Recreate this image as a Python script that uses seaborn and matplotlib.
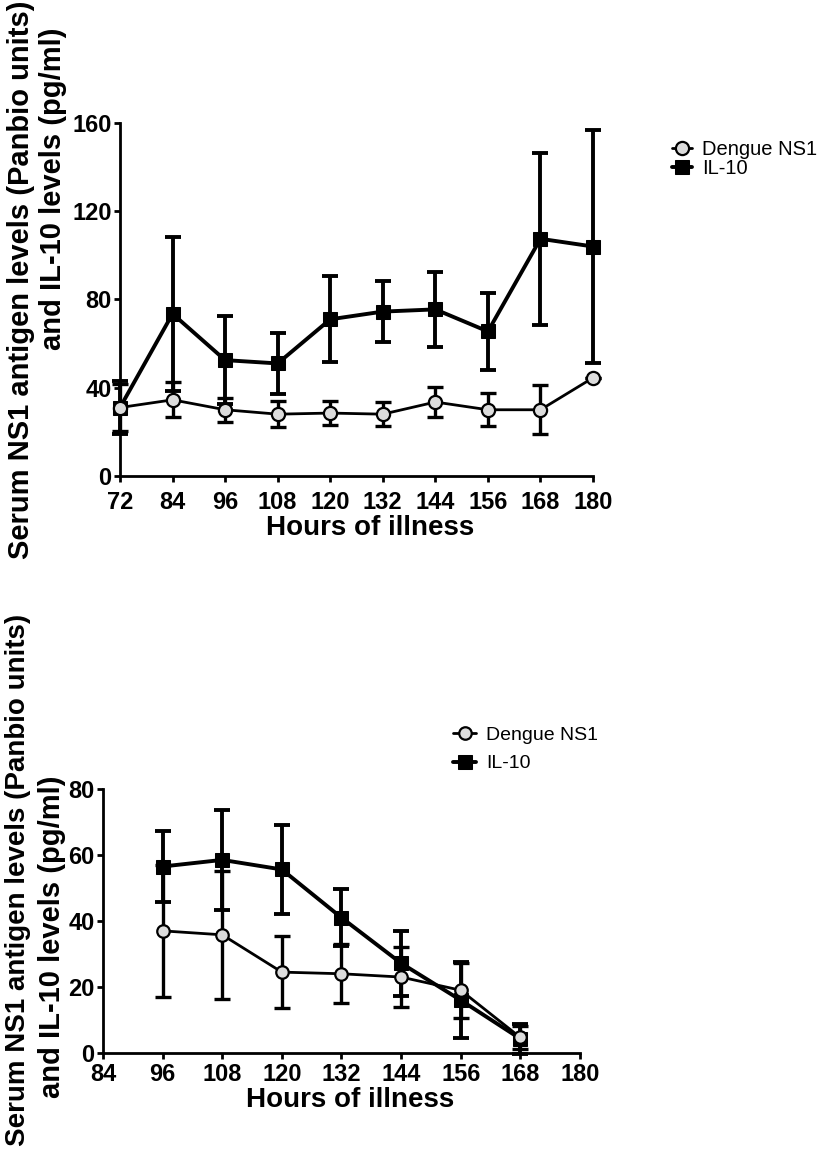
import numpy as np
import pandas as pd
import matplotlib
matplotlib.use("Agg")
import matplotlib.pyplot as plt
import seaborn as sns

# ---------------- data ----------------
hours_top = [72, 84, 96, 108, 120, 132, 144, 156, 168, 180]
ns1_top = [31, 34.5, 30, 28, 28.5, 28, 33.5, 30, 30, 44.5]
ns1_top_err = [10.5, 8, 5.5, 6, 5.3, 5.5, 6.6, 7.5, 11, 0]
il10_top = [31, 73.5, 52.5, 51, 71, 74.5, 75.5, 65.5, 107.5, 104]
il10_top_err = [12, 35, 20, 14, 19.5, 13.7, 17, 17.5, 39, 53]

hours_bot = [96, 108, 120, 132, 144, 156, 168]
ns1_bot = [37, 35.8, 24.5, 24, 23, 19, 4.7]
ns1_bot_err = [20, 19.4, 11, 9, 9, 8.3, 3.5]
il10_bot = [56.5, 58.5, 55.6, 41, 27.2, 16, 4.3]
il10_bot_err = [10.8, 15.2, 13.6, 8.7, 9.8, 11.5, 4.5]

xticks_top = [72, 84, 96, 108, 120, 132, 144, 156, 168, 180]
yticks_top = [0, 40, 80, 120, 160]
xticks_bot = [84, 96, 108, 120, 132, 144, 156, 168, 180]
yticks_bot = [0, 20, 40, 60, 80]

series_names = ["Dengue NS1", "IL-10"]
ylabel_1 = "Serum NS1 antigen levels (Panbio units)"
ylabel_2 = "and IL-10 levels (pg/ml)"
xlabel = "Hours of illness"

# ---------------- style ----------------
sns.set_theme(style="ticks")
plt.rcParams["font.family"] = ["Liberation Sans", "DejaVu Sans"]
plt.rcParams["font.weight"] = "bold"
for k in ["text.color", "axes.labelcolor", "xtick.color", "ytick.color",
          "axes.edgecolor"]:
    plt.rcParams[k] = "black"

fig = plt.figure(figsize=(8.27, 11.58), dpi=100)

ax_top = fig.add_axes([0.1451, 0.589, 0.572, 0.3048])
ax_bot = fig.add_axes([0.1245, 0.0907, 0.5768, 0.228])


def draw(ax, hours, ns1, ns1_err, il10, il10_err, ms_c, ms_s):
    df = pd.DataFrame({
        "hours": list(hours) * 2,
        "value": list(ns1) + list(il10),
        "series": [series_names[0]] * len(hours) + [series_names[1]] * len(hours),
    })
    # error bars
    ax.errorbar(hours, ns1, yerr=ns1_err, fmt="none", ecolor="black",
                elinewidth=2.4, capsize=6, capthick=2.4, zorder=2, clip_on=False)
    ax.errorbar(hours, il10, yerr=il10_err, fmt="none", ecolor="black",
                elinewidth=2.8, capsize=6, capthick=2.8, zorder=2, clip_on=False)
    sns.lineplot(data=df[df.series == series_names[0]], x="hours", y="value",
                 ax=ax, color="black", marker="o", markersize=ms_c,
                 markerfacecolor="#dcdcdc", markeredgecolor="black",
                 markeredgewidth=1.6, linewidth=2.0, label=series_names[0],
                 zorder=4, clip_on=False)
    sns.lineplot(data=df[df.series == series_names[1]], x="hours", y="value",
                 ax=ax, color="black", marker="s", markersize=ms_s,
                 markerfacecolor="black", markeredgecolor="black",
                 linewidth=2.8, label=series_names[1], zorder=3, clip_on=False)


draw(ax_top, hours_top, ns1_top, ns1_top_err, il10_top, il10_top_err, 9.5, 10.5)
draw(ax_bot, hours_bot, ns1_bot, ns1_bot_err, il10_bot, il10_bot_err, 9, 10)

for ax, xt, yt, xpad in [(ax_top, xticks_top, yticks_top, 7),
                         (ax_bot, xticks_bot, yticks_bot, 3)]:
    ax.set_xlim(xt[0], xt[-1])
    ax.set_ylim(yt[0], yt[-1])
    ax.set_xticks(xt)
    ax.set_yticks(yt)
    ax.set_xticklabels([str(v) for v in xt], fontsize=17, fontweight="bold")
    ax.set_yticklabels([str(v) for v in yt], fontsize=17, fontweight="bold")
    for s in ["top", "right"]:
        ax.spines[s].set_visible(False)
    for s in ["left", "bottom"]:
        ax.spines[s].set_linewidth(2.0)
        ax.spines[s].set_color("black")
    ax.tick_params(axis="x", length=4, width=2, pad=xpad, colors="black")
    ax.tick_params(axis="y", length=4, width=2, pad=2, colors="black")
    ax.set_ylabel("")
    ax.set_facecolor("white")

ax_top.set_xlabel(xlabel, fontsize=20, fontweight="bold", color="black")
ax_top.xaxis.set_label_coords(0.529, -0.112)
ax_bot.set_xlabel(xlabel, fontsize=20, fontweight="bold", color="black")
ax_bot.xaxis.set_label_coords(0.518, -0.128)

# legends
ax_top.legend(loc="upper left", bbox_to_anchor=(0.8, 0.888),
              bbox_transform=fig.transFigure, frameon=False,
              handlelength=1.0, handletextpad=0.5, labelspacing=0.0,
              borderpad=0, prop={"weight": "normal", "size": 14.5})
ax_bot.legend(loc="upper left", bbox_to_anchor=(0.536, 0.381),
              bbox_transform=fig.transFigure, frameon=False,
              handlelength=1.2, handletextpad=0.5, labelspacing=0.55,
              borderpad=0, prop={"weight": "normal", "size": 14})

# y labels (two lines)
fig.text(0.0254, 0.758, ylabel_1, rotation=90, ha="center", va="center",
         fontsize=21, fontweight="bold", color="black")
fig.text(0.064, 0.837, ylabel_2, rotation=90, ha="center", va="center",
         fontsize=21, fontweight="bold", color="black")
fig.text(0.022, 0.4698, ylabel_1, rotation=90, ha="center", va="top",
         fontsize=20, fontweight="bold", color="black")
fig.text(0.063, 0.3307, ylabel_2, rotation=90, ha="center", va="top",
         fontsize=21, fontweight="bold", color="black")

fig.savefig("out.png", dpi=100, facecolor="white")
